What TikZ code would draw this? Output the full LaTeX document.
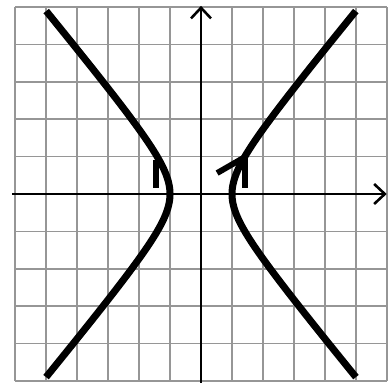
\documentclass[tikz,border=0pt]{standalone}
\usepackage{tikz}
\usepackage{xcolor}
\usetikzlibrary{positioning, calc, arrows.meta}
\definecolor{gridgray}{RGB}{150,150,150}
\tikzset{gridline/.style={gridgray, line width=1.5pt},
axis/.style={black, line width=2.2pt, -{Straight Barb[length=3.2mm, width=6mm, line width=2.2pt]}},
branch/.style={black, line width=6pt, line cap=butt},
tipbar/.style={black, line width=5pt, line cap=butt}
}

\begin{document}
\begin{tikzpicture}[x=0.93cm, y=1.122cm]
\useasboundingbox (-6.484,-5.053) rectangle (6.032,5.187);
\foreach \i in {-6,...,6} \draw[gridline] (\i,-5) -- (\i,5);
\foreach \j in {-5,...,5} \draw[gridline] (-6,\j) -- (6,\j);
 % axes
\coordinate (xleft) at (-6.1,0);
\coordinate (xright) at (5.99,0);
\coordinate (ybottom) at (0,-5.1);
\coordinate (ytop) at (0,5.03);
\draw[axis] (xleft) -- (xright);
\draw[axis] (ybottom) -- (ytop);
 % the two branches of x^2 - y^2 = 1
\draw[branch] plot[domain=-2.292:2.292, samples=120, smooth, variable=\t] ({cosh(\t)},{sinh(\t)});
\draw[branch] plot[domain=-2.292:2.292, samples=120, smooth, variable=\t] ({-cosh(\t)},{sinh(\t)});
\coordinate (lefttip) at (-1.45,0.92);
\coordinate (righttip) at (1.42,0.99);
\draw[tipbar] (lefttip) -- ++(0,-0.76);
\draw[tipbar] (righttip) -- ++(0,-0.83);
\draw[tipbar] (righttip) -- ++(-0.9,-0.43);
\end{tikzpicture}
\end{document}
